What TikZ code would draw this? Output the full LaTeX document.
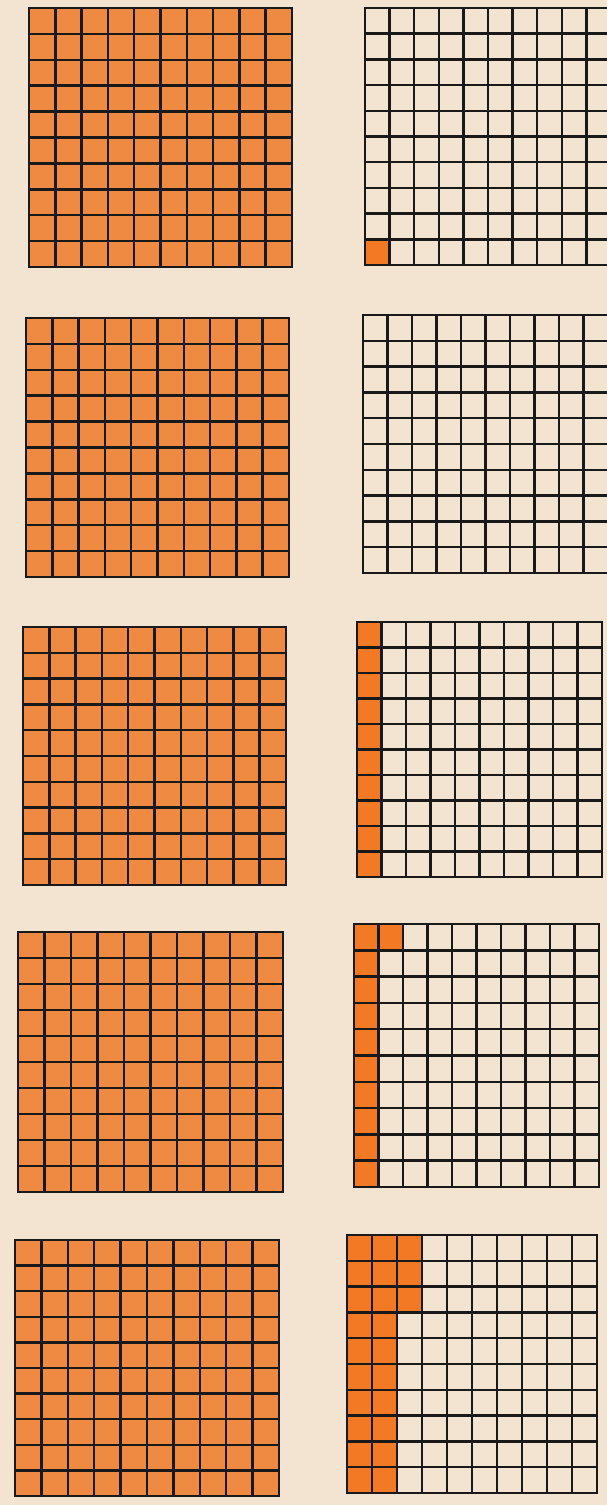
\documentclass[tikz,border=0pt]{standalone}
\usepackage{xcolor}
\usepackage{tikz}
\usetikzlibrary{calc}
\definecolor{paper}{HTML}{F3E4D1}
\definecolor{fullorange}{HTML}{EF8A42}
\definecolor{partorange}{HTML}{F27A24}
\newcommand{\hundred}[5]{%
  \begin{scope}[shift={(#1,#2)},xscale={(#3-#1)/10},yscale={(#4-#2)/10}]
    #5
    \foreach \k in {0,...,10}{
      \draw[gridline] (\k,0) -- (\k,10);
      \draw[gridline] (0,\k) -- (10,\k);
    }
  \end{scope}}

\begin{document}
\begin{tikzpicture}[x=0.02cm,y=-0.02cm,
    gridline/.style={line width=1.4pt,black!90,line cap=rect}]
  \fill[paper] (0,0) rectangle (607,1505);
  \clip (0,0) rectangle (607,1505);
  \hundred{29}{8}{292}{267}{\fill[fullorange] (0,0) rectangle (10,10);}
  \hundred{26}{318}{289}{577}{\fill[fullorange] (0,0) rectangle (10,10);}
  \hundred{23}{627}{286}{885}{\fill[fullorange] (0,0) rectangle (10,10);}
  \hundred{18}{932}{283}{1192}{\fill[fullorange] (0,0) rectangle (10,10);}
  \hundred{15}{1240}{279}{1496}{\fill[fullorange] (0,0) rectangle (10,10);}
  \hundred{365}{8}{611}{265}{\fill[partorange] (0,9) rectangle (1,10);}
  \hundred{363}{315}{608}{573}{}
  \hundred{357}{622}{602}{877}{\fill[partorange] (0,0) rectangle (1,10);}
  \hundred{354}{924}{599}{1187}{\fill[partorange] (0,0) rectangle (1,10) (1,0) rectangle (2,1);}
  \hundred{347}{1235}{597}{1493}{\fill[partorange] (0,0) rectangle (2,10) (2,0) rectangle (3,3);}
\end{tikzpicture}
\end{document}
